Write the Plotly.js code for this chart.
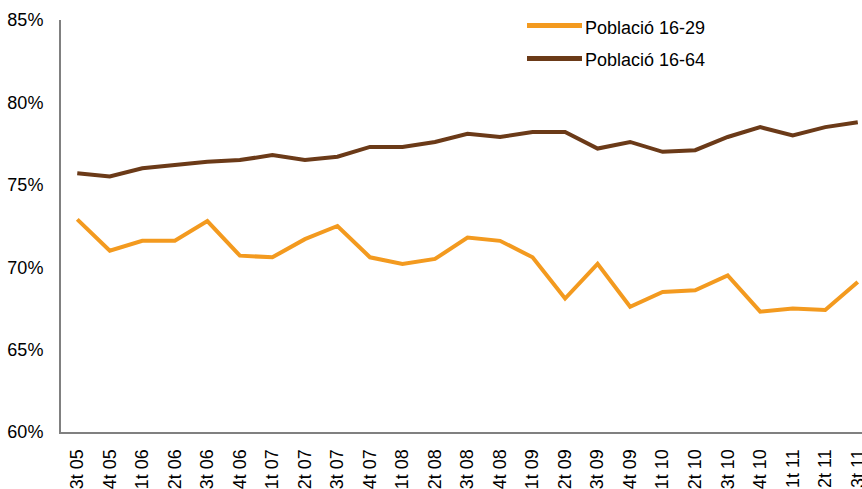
<!DOCTYPE html>
<html>
<head>
<meta charset="utf-8">
<script src="https://cdn.plot.ly/plotly-3.0.1.min.js"></script>
<style>html,body{margin:0;padding:0;background:#fff;overflow:hidden}#chart{width:862px;height:489px}</style>
</head>
<body>
<div id="chart"></div>
<script>
const categories = ["3t 05","4t 05","1t 06","2t 06","3t 06","4t 06","1t 07","2t 07","3t 07","4t 07","1t 08","2t 08","3t 08","4t 08","1t 09","2t 09","3t 09","4t 09","1t 10","2t 10","3t 10","4t 10","1t 11","2t 11","3t 11"];
const pob1629 = [72.9,71.0,71.6,71.6,72.8,70.7,70.6,71.7,72.5,70.6,70.2,70.5,71.8,71.6,70.6,68.1,70.2,67.6,68.5,68.6,69.5,67.3,67.5,67.4,69.1];
const pob1664 = [75.7,75.5,76.0,76.2,76.4,76.5,76.8,76.5,76.7,77.3,77.3,77.6,78.1,77.9,78.2,78.2,77.2,77.6,77.0,77.1,77.9,78.5,78.0,78.5,78.8];
const seriesNames = ["Població 16-29","Població 16-64"];
const seriesColors = ["#F39A1F","#6B3A18"];
const yTicks = [60,65,70,75,80,85];

const font = "Liberation Sans, Arial, sans-serif";
const traces = [
  {x: categories, y: pob1629, name: seriesNames[0], type: "scatter", mode: "lines",
   line: {color: seriesColors[0], width: 4}},
  {x: categories, y: pob1664, name: seriesNames[1], type: "scatter", mode: "lines",
   line: {color: seriesColors[1], width: 4}}
];

// legend drawn as paper-positioned shapes + annotations
const W = 862, H = 489, mL = 61, mR = 0, mT = 20, mB = 57;
const pw = W - mL - mR, ph = H - mT - mB;
const px = v => (v - mL) / pw;
const py = v => (H - mB - v) / ph;
const legLineY = [25.5, 58.5];
const legTextY = [28, 59.5];
const shapes = seriesNames.map((n, i) => ({
  type: "line", xref: "paper", yref: "paper",
  x0: px(527), x1: px(582), y0: py(legLineY[i]), y1: py(legLineY[i]),
  line: {color: seriesColors[i], width: 5}
}));
const annotations = seriesNames.map((n, i) => ({
  xref: "paper", yref: "paper", x: px(583), y: py(legTextY[i]),
  xanchor: "left", yanchor: "middle", showarrow: false, text: n,
  font: {family: font, size: 18, color: "#000"}
}));

const layout = {
  width: W, height: H,
  margin: {l: mL, r: mR, t: mT, b: mB},
  paper_bgcolor: "#fff", plot_bgcolor: "#fff",
  font: {family: font, size: 18, color: "#000"},
  showlegend: false,
  shapes: shapes, annotations: annotations,
  xaxis: {type: "category", range: [-0.5, 24.13], showgrid: false, zeroline: false,
          showline: true, linecolor: "#808080", linewidth: 2, ticks: "",
          tickangle: -90, tickfont: {family: font, size: 18, color: "#000"},
          ticklabelstandoff: 8},
  yaxis: {range: [60, 85], tickvals: yTicks, ticktext: yTicks.map(v => v + "%"),
          showgrid: false, zeroline: false, showline: true, linecolor: "#808080", linewidth: 2,
          ticks: "", tickfont: {family: font, size: 18, color: "#000"}, ticklabelstandoff: 12}
};
Plotly.newPlot("chart", traces, layout, {displayModeBar: false, staticPlot: true});
</script>
</body>
</html>
